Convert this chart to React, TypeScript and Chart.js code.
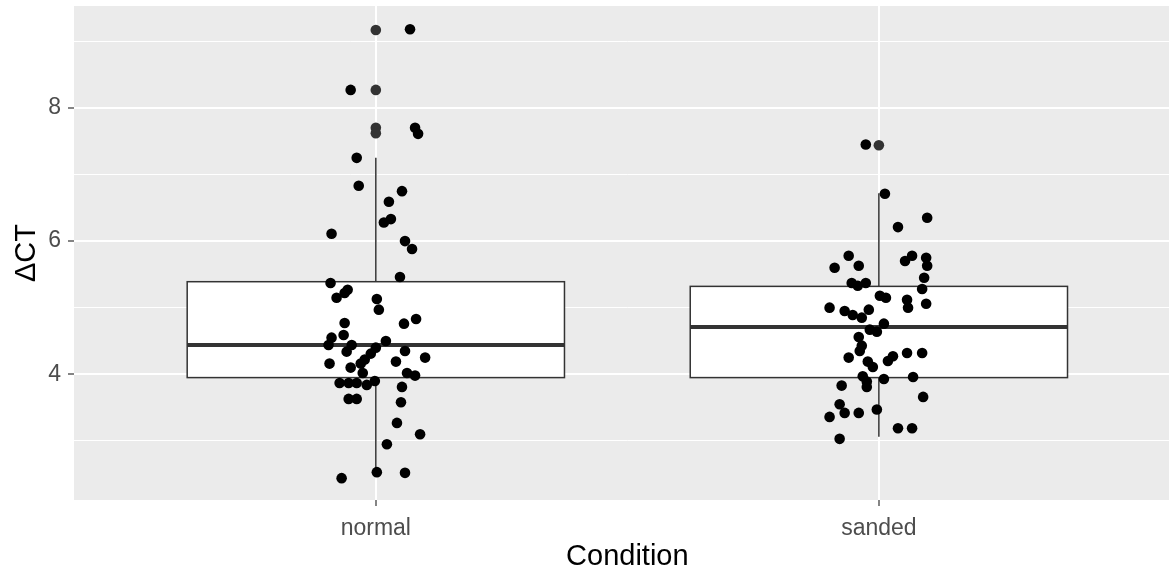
import React, { useEffect, useRef } from 'react';
import { Chart, registerables } from 'chart.js';

Chart.register(...registerables);

// ---- Data ----
const categories = ['normal', 'sanded'];
const yTickValues = [3, 4, 5, 6, 7, 8, 9];
const xTitle = 'Condition';
const yTitle = 'ΔCT';

// Box statistics per category
const boxQ1 = [3.95, 3.95];
const boxMedian = [4.44, 4.71];
const boxQ3 = [5.39, 5.32];
const whiskerLow = [2.53, 3.06];
const whiskerHigh = [7.25, 6.72];

// Boxplot outliers (drawn at category centre)
const outlierCategory = [0, 0, 0, 0, 1];
const outlierValues = [9.17, 8.27, 7.7, 7.62, 7.44];

// Jittered points: horizontal offset (category units) and value
const normalOffsets = [
  0.068, -0.05, 0.078, 0.084, -0.038, -0.034, 0.052, 0.026, 0.03, 0.016,
  -0.088, 0.058, 0.072, 0.048, -0.09, -0.056, -0.062, -0.078, 0.002, 0.006,
  0.08, 0.056, -0.062, -0.064, -0.088, -0.094, -0.048, -0.058, 0.02, 0.0,
  -0.01, -0.022, -0.03, 0.058, 0.098, 0.04, -0.092, -0.05, -0.026, 0.062,
  0.078, -0.072, -0.054, -0.038, -0.018, -0.002, 0.052, -0.054, -0.038, 0.05,
  0.042, 0.088, 0.022, 0.002, 0.058, -0.068,
];
const normalValues = [
  9.18, 8.27, 7.7, 7.61, 7.25, 6.83, 6.75, 6.59, 6.33, 6.28,
  6.11, 6.0, 5.88, 5.46, 5.37, 5.27, 5.22, 5.15, 5.13, 4.97,
  4.83, 4.76, 4.77, 4.59, 4.55, 4.44, 4.44, 4.34, 4.5, 4.4,
  4.31, 4.22, 4.16, 4.35, 4.25, 4.19, 4.16, 4.1, 4.02, 4.02,
  3.98, 3.87, 3.87, 3.87, 3.84, 3.9, 3.81, 3.63, 3.63, 3.58,
  3.27, 3.1, 2.95, 2.53, 2.52, 2.44,
];
const sandedOffsets = [
  -0.026, 0.012, 0.038, 0.096, -0.06, -0.04, -0.088, 0.066, 0.052, 0.094,
  0.096, 0.09, -0.054, -0.042, -0.026, 0.086, 0.002, 0.014, 0.056, 0.058,
  0.094, -0.098, -0.068, -0.052, -0.034, -0.02, 0.01, -0.004, -0.018, -0.04,
  -0.034, -0.038, -0.06, 0.056, 0.086, 0.028, 0.018, -0.022, -0.012, -0.032,
  -0.024, -0.024, 0.01, 0.068, -0.074, 0.088, -0.078, -0.068, -0.098, -0.04,
  -0.004, 0.038, 0.066, -0.078,
];
const sandedValues = [
  7.45, 6.71, 6.21, 6.35, 5.78, 5.63, 5.6, 5.78, 5.7, 5.75,
  5.63, 5.45, 5.37, 5.33, 5.37, 5.28, 5.18, 5.15, 5.12, 5.0,
  5.06, 5.0, 4.95, 4.89, 4.85, 4.97, 4.76, 4.64, 4.67, 4.56,
  4.43, 4.35, 4.25, 4.32, 4.32, 4.27, 4.2, 4.19, 4.11, 3.97,
  3.89, 3.81, 3.93, 3.96, 3.83, 3.66, 3.55, 3.42, 3.36, 3.42,
  3.47, 3.19, 3.19, 3.03,
];

const FONT = "'Liberation Sans', Arial, sans-serif";
const GREY20 = '#333333';
const CANVAS_W = 1186;
const CANVAS_H = 573;

const panelBackground = {
  id: 'panelBackground',
  beforeDraw(chart: any) {
    const { ctx, chartArea } = chart;
    ctx.save();
    ctx.fillStyle = '#EBEBEB';
    ctx.fillRect(chartArea.left, chartArea.top, chartArea.right - chartArea.left, chartArea.bottom - chartArea.top);
    ctx.restore();
  },
};

const boxplotPlugin = {
  id: 'boxplotPlugin',
  beforeDatasetsDraw(chart: any) {
    const { ctx, chartArea, scales } = chart;
    const xs = scales.x;
    const ys = scales.y;
    ctx.save();
    ctx.beginPath();
    ctx.rect(chartArea.left, chartArea.top, chartArea.right - chartArea.left, chartArea.bottom - chartArea.top);
    ctx.clip();
    categories.forEach((_, i) => {
      const xc = xs.getPixelForValue(i);
      const x0 = xs.getPixelForValue(i - 0.375);
      const x1 = xs.getPixelForValue(i + 0.375);
      const yq1 = ys.getPixelForValue(boxQ1[i]);
      const yq3 = ys.getPixelForValue(boxQ3[i]);
      const ymed = ys.getPixelForValue(boxMedian[i]);
      const ylo = ys.getPixelForValue(whiskerLow[i]);
      const yhi = ys.getPixelForValue(whiskerHigh[i]);
      ctx.strokeStyle = GREY20;
      ctx.lineWidth = 1.5;
      ctx.beginPath();
      ctx.moveTo(xc, yq3);
      ctx.lineTo(xc, yhi);
      ctx.moveTo(xc, yq1);
      ctx.lineTo(xc, ylo);
      ctx.stroke();
      ctx.fillStyle = '#FFFFFF';
      ctx.fillRect(x0, yq3, x1 - x0, yq1 - yq3);
      ctx.strokeRect(x0, yq3, x1 - x0, yq1 - yq3);
      ctx.lineWidth = 4;
      ctx.beginPath();
      ctx.moveTo(x0, ymed);
      ctx.lineTo(x1, ymed);
      ctx.stroke();
    });
    ctx.restore();
  },
};

export default function App() {
  const canvasRef = useRef<HTMLCanvasElement | null>(null);

  useEffect(() => {
    document.body.style.margin = '0';
    const canvas = canvasRef.current;
    if (!canvas) return;

    const jitterData = [
      ...normalValues.map((v, k) => ({ x: 0 + normalOffsets[k], y: v })),
      ...sandedValues.map((v, k) => ({ x: 1 + sandedOffsets[k], y: v })),
    ];
    const outlierData = outlierValues.map((v, k) => ({ x: outlierCategory[k], y: v }));

    const chart = new Chart(canvas, {
      type: 'scatter',
      data: {
        datasets: [
          {
            label: 'jitter',
            data: jitterData,
            backgroundColor: '#000000',
            borderWidth: 0,
            pointRadius: 5.3,
          },
          {
            label: 'outliers',
            data: outlierData,
            backgroundColor: GREY20,
            borderWidth: 0,
            pointRadius: 5.3,
          },
        ],
      },
      options: {
        animation: false,
        responsive: false,
        devicePixelRatio: 1,
        layout: { padding: { top: 6, left: 0, right: 0, bottom: 0 } },
        plugins: {
          legend: { display: false },
          tooltip: { enabled: false },
        },
        scales: {
          x: {
            type: 'linear',
            min: -0.6,
            max: 1.6,
            afterBuildTicks: (scale: any) => {
              scale.ticks = categories.map((_, i) => ({ value: i }));
            },
            afterFit: (scale: any) => {
              scale.height = 73;
              scale.paddingLeft = 0;
              scale.paddingRight = 0;
            },
            border: { display: false },
            grid: {
              color: '#FFFFFF',
              lineWidth: 2,
              tickColor: GREY20,
              tickLength: 6,
              tickWidth: 1.2,
            },
            ticks: {
              autoSkip: false,
              maxRotation: 0,
              padding: 11,
              color: '#4D4D4D',
              font: { family: FONT, size: 23, lineHeight: 1 },
              callback: (v: any) => categories[Math.round(Number(v))] ?? '',
            },
            title: {
              display: true,
              text: xTitle,
              color: '#000000',
              font: { family: FONT, size: 29, lineHeight: 1 },
              padding: { top: 0, bottom: 1.5 },
            },
          },
          y: {
            type: 'linear',
            min: 2.112,
            max: 9.53,
            afterBuildTicks: (scale: any) => {
              scale.ticks = yTickValues.map((v) => ({ value: v }));
            },
            afterFit: (scale: any) => {
              scale.width = 74;
              scale.paddingTop = 0;
              scale.paddingBottom = 0;
            },
            border: { display: false },
            grid: {
              color: '#FFFFFF',
              lineWidth: (c: any) => (c.tick && c.tick.value % 2 === 0 ? 2 : 1),
              tickColor: (c: any) => (c.tick && c.tick.value % 2 === 0 ? GREY20 : 'rgba(0,0,0,0)'),
              tickLength: 6,
              tickWidth: 1.2,
            },
            ticks: {
              autoSkip: false,
              padding: 7,
              color: '#4D4D4D',
              font: { family: FONT, size: 23, lineHeight: 1 },
              callback: (v: any) => (Number(v) % 2 === 0 ? String(v) : ''),
            },
            title: {
              display: true,
              text: yTitle,
              color: '#000000',
              font: { family: FONT, size: 29, lineHeight: 1 },
              padding: { top: 12.5, bottom: 0 },
            },
          },
        },
      },
      plugins: [panelBackground, boxplotPlugin],
    });

    return () => {
      chart.destroy();
    };
  }, []);

  return (
    <div style={{ position: 'absolute', left: 0, top: 0, width: 1169, height: 573, overflow: 'hidden' }}>
      <canvas
        ref={canvasRef}
        width={CANVAS_W}
        height={CANVAS_H}
        style={{ width: CANVAS_W, height: CANVAS_H, display: 'block' }}
      />
    </div>
  );
}
